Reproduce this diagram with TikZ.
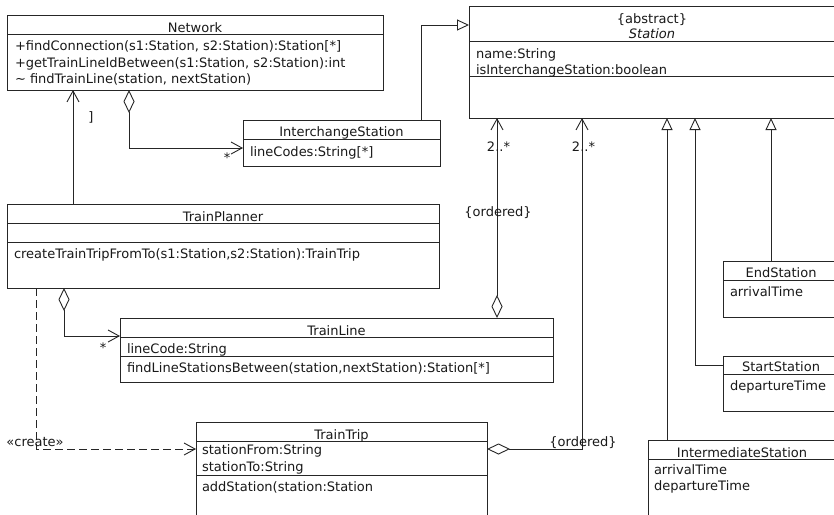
\documentclass[tikz,border=0pt]{standalone}
\usepackage{fontspec}
\setmainfont{DejaVu Sans}
\usetikzlibrary{arrows.meta,calc}
\tikzset{
  ink/.style={draw=black!85, line width=0.9pt},
  cls/.style={ink, fill=white, rectangle, inner sep=0pt, outer sep=0pt, anchor=north west},
  txt/.style={inner sep=0pt, outer sep=0pt, font=\fontsize{13}{15}\selectfont, text=black!90},
  ttl/.style={txt, anchor=base},
  mem/.style={txt, anchor=base west},
  lbl/.style={txt, anchor=base},
  assoc/.style={ink, -{Straight Barb[length=11pt,width=12pt,line width=0.9pt]}},
  gen/.style={ink, -{Triangle[open,length=12pt,width=11pt,fill=white]}},
  agg/.style={ink, {Diamond[open,length=23pt,width=11pt,fill=white]}-{Straight Barb[length=11pt,width=12pt,line width=0.9pt]}},
  dep/.style={ink, dash pattern=on 8pt off 4pt, -{Straight Barb[length=11pt,width=12pt,line width=0.9pt]}},
}
\begin{document}
\begin{tikzpicture}[x=1pt,y=-1pt]
\useasboundingbox (0,0) rectangle (834,514);
\clip (0,0) rectangle (834,514);
\fill[white] (0,0) rectangle (834,514);

% ---------- Network ----------
\node[cls, minimum width=376pt, minimum height=75pt] (net) at (7,15) {};
\draw[ink] (7,34) -- (383,34);
\node[ttl] (net-t) at (195,32) {Network};
\node[mem] (net-m1) at (15,50) {+findConnection(s1:Station, s2:Station):Station[*]};
\node[mem] (net-m2) at (15,67) {+getTrainLineIdBetween(s1:Station, s2:Station):int};
\node[mem] (net-m3) at (15,83) {\textasciitilde\ findTrainLine(station, nextStation)};

% ---------- Station (abstract) ----------
\node[cls, minimum width=368pt, minimum height=112pt] (sta) at (469,6) {};
\draw[ink] (469,41) -- (837,41);
\draw[ink] (469,76) -- (837,76);
\node[ttl] (sta-s) at (652,23) {\{abstract\}};
\node[ttl] (sta-t) at (652,38) {\itshape Station};
\node[mem] (sta-a1) at (476,58) {name:String};
\node[mem] (sta-a2) at (476,74) {isInterchangeStation:boolean};

% ---------- InterchangeStation ----------
\node[cls, minimum width=197pt, minimum height=46pt] (ics) at (243,120) {};
\draw[ink] (243,139) -- (440,139);
\node[ttl] (ics-t) at (341.5,136) {InterchangeStation};
\node[mem] (ics-a1) at (250,156) {lineCodes:String[*]};

% ---------- TrainPlanner ----------
\node[cls, minimum width=432pt, minimum height=84pt] (tp) at (7,204) {};
\draw[ink] (7,223) -- (439,223);
\draw[ink] (7,242) -- (439,242);
\node[ttl] (tp-t) at (223,221) {TrainPlanner};
\node[mem] (tp-m1) at (14,258) {createTrainTripFromTo(s1:Station,s2:Station):TrainTrip};

% ---------- TrainLine ----------
\node[cls, minimum width=433pt, minimum height=64pt] (tl) at (120,318) {};
\draw[ink] (120,337) -- (553,337);
\draw[ink] (120,356) -- (553,356);
\node[ttl] (tl-t) at (336.5,335) {TrainLine};
\node[mem] (tl-a1) at (127,353) {lineCode:String};
\node[mem] (tl-m1) at (127,372) {findLineStationsBetween(station,nextStation):Station[*]};

% ---------- TrainTrip ----------
\node[cls, minimum width=291pt, minimum height=100pt] (tt) at (196,422) {};
\draw[ink] (196,441) -- (487,441);
\draw[ink] (196,475) -- (487,475);
\node[ttl] (tt-t) at (341.5,439) {TrainTrip};
\node[mem] (tt-a1) at (202,454) {stationFrom:String};
\node[mem] (tt-a2) at (202,471) {stationTo:String};
\node[mem] (tt-m1) at (202,491) {addStation(station:Station};

% ---------- EndStation ----------
\node[cls, minimum width=117pt, minimum height=56pt] (es) at (723,261) {};
\draw[ink] (723,280) -- (840,280);
\node[ttl] (es-t) at (781,277) {EndStation};
\node[mem] (es-a1) at (730,296) {arrivalTime};

% ---------- StartStation ----------
\node[cls, minimum width=117pt, minimum height=55pt] (ss) at (723,356) {};
\draw[ink] (723,374) -- (840,374);
\node[ttl] (ss-t) at (781,371) {StartStation};
\node[mem] (ss-a1) at (730,390) {departureTime};

% ---------- IntermediateStation ----------
\node[cls, minimum width=190pt, minimum height=80pt] (is) at (648,440) {};
\draw[ink] (648,459) -- (838,459);
\node[ttl] (is-t) at (742,457) {IntermediateStation};
\node[mem] (is-a1) at (654,474) {arrivalTime};
\node[mem] (is-a2) at (654,490) {departureTime};

% ---------- routing columns and rows ----------
\coordinate (c36) at (36,0);
\coordinate (c64) at (64,0);
\coordinate (c73) at (73,0);
\coordinate (c129) at (129,0);
\coordinate (c421) at (421,0);
\coordinate (c497) at (497,0);
\coordinate (c582) at (582,0);
\coordinate (c667) at (667,0);
\coordinate (c695) at (695,0);
\coordinate (c771) at (771,0);
\coordinate (r25) at (0,25);
\coordinate (r148) at (0,148);
\coordinate (r336) at (0,336);
\coordinate (r365) at (0,365);
\coordinate (r449) at (0,449);

% ---------- connectors ----------
% TrainPlanner -> Network
\draw[assoc] (tp.north -| c73) -- (net.south -| c73);
\node[lbl] (lbl-br) at (91,121) {]};

% Network aggregates InterchangeStation
\draw[agg] (net.south -| c129) -- (c129 |- r148) -- (ics.west |- r148);
\node[lbl] (lbl-ics) at (227,162) {*};

% InterchangeStation specialises Station
\draw[gen] (ics.north -| c421) -- (c421 |- r25) -- (sta.west |- r25);

% TrainPlanner aggregates TrainLine
\draw[agg] (tp.south -| c64) -- (c64 |- r336) -- (tl.west |- r336);
\node[lbl] (lbl-tl) at (103,352) {*};

% TrainLine aggregates Station
\draw[agg] (tl.north -| c497) -- (sta.south -| c497);
\node[lbl] (lbl-m1) at (498.5,151) {2..*};
\node[lbl] (lbl-o1) at (498,216) {\{ordered\}};

% TrainTrip aggregates Station
\draw[agg] (tt.east |- r449) -- (c582 |- r449) -- (sta.south -| c582);
\node[lbl] (lbl-m2) at (583.5,151) {2..*};
\node[lbl] (lbl-o2) at (583,446) {\{ordered\}};

% TrainPlanner creates TrainTrip
\draw[dep] (tp.south -| c36) -- (c36 |- r449) -- (tt.west |- r449);
\node[lbl] (lbl-cr) at (35,446) {«create»};

% specialisations of Station
\draw[gen] (is.north -| c667) -- (sta.south -| c667);
\draw[gen] (ss.west |- r365) -- (c695 |- r365) -- (sta.south -| c695);
\draw[gen] (es.north -| c771) -- (sta.south -| c771);
\end{tikzpicture}
\end{document}
